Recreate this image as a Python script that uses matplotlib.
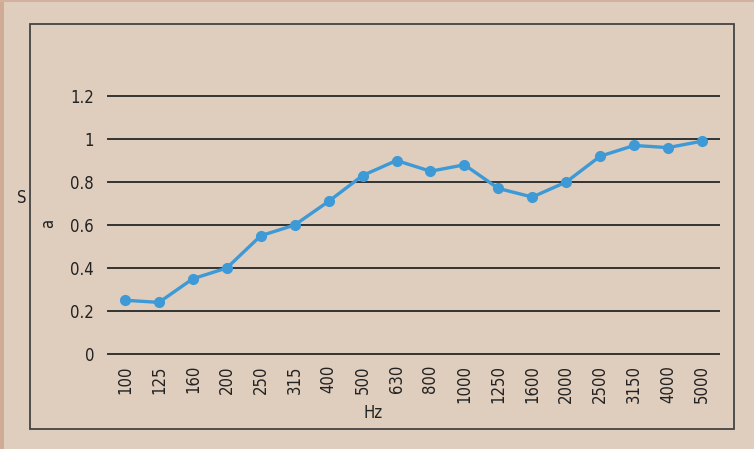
import matplotlib
matplotlib.use('Agg')
import matplotlib.pyplot as plt
from matplotlib.patches import Rectangle

# Datos
freqs = ['100', '125', '160', '200', '250', '315', '400', '500', '630',
         '800', '1000', '1250', '1600', '2000', '2500', '3150', '4000', '5000']
sa = [0.25, 0.24, 0.35, 0.40, 0.55, 0.60, 0.71, 0.83, 0.90,
      0.85, 0.88, 0.77, 0.73, 0.80, 0.92, 0.97, 0.96, 0.99]
yticks = [0, 0.2, 0.4, 0.6, 0.8, 1, 1.2]
ytick_labels = ['0', '0.2', '0.4', '0.6', '0.8', '1', '1.2']

bg = '#dfcdbd'
txt = '#222222'
font = dict(family='DejaVu Sans', stretch='condensed', size=12, color=txt)

fig = plt.figure(figsize=(7.54, 4.49), dpi=100, facecolor=bg)

# Borde izquierdo/superior de la imagen
fig.patches.append(Rectangle((0, 0), 4 / 754, 1, transform=fig.transFigure,
                             facecolor='#cfab96', edgecolor='none'))
fig.patches.append(Rectangle((0, 1 - 2 / 449), 1, 2 / 449, transform=fig.transFigure,
                             facecolor='#d2b29f', edgecolor='none'))

# Marco
fig.patches.append(Rectangle((30 / 754, 20 / 449), 704 / 754, 405 / 449,
                             transform=fig.transFigure, fill=False,
                             edgecolor='#444444', linewidth=1.3))

ax = fig.add_axes([108 / 754, 95 / 449, 611 / 754, 258 / 449])
ax.set_facecolor(bg)
ax.patch.set_alpha(0)

x = list(range(len(freqs)))
ax.set_xlim(-0.5, len(freqs) - 0.5)
ax.set_ylim(0, 1.2)

# Lineas de la grilla
for v in yticks:
    ax.axhline(v, color='#333333', linewidth=1.4, clip_on=False, zorder=1)

ax.plot(x, sa, color='#3d9ad6', linewidth=2.4, marker='o', markersize=7,
        clip_on=False, zorder=3)

for s in ax.spines.values():
    s.set_visible(False)

ax.set_yticks(yticks)
ax.set_yticklabels(ytick_labels)
ax.set_xticks(x)
ax.set_xticklabels(freqs, rotation=90)
ax.tick_params(axis='y', length=0, pad=10)
ax.tick_params(axis='x', length=0, pad=8)
for lab in ax.get_xticklabels() + ax.get_yticklabels():
    lab.set_fontfamily('DejaVu Sans')
    lab.set_fontstretch('condensed')
    lab.set_fontsize(12)
    lab.set_color(txt)

fig.text(373 / 754, 1 - 413 / 449, 'Hz', ha='center', va='center', **font)
fig.text(22 / 754, 1 - 198 / 449, 'S', ha='center', va='center', **font)
fig.text(48 / 754, 1 - 223 / 449, 'a', ha='center', va='center', rotation=90, **font)

fig.savefig('out.png', dpi=100, facecolor=bg)
